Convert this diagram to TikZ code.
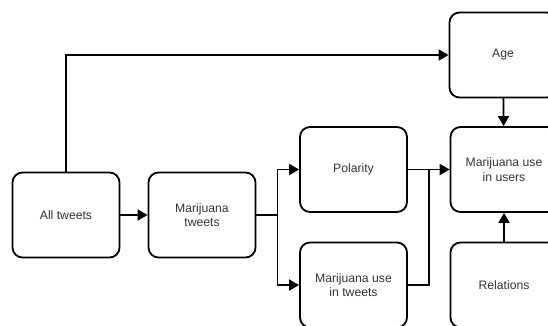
\documentclass[tikz,border=0pt]{standalone}
\usepackage{fontspec}
\setmainfont{Liberation Sans}
\usetikzlibrary{arrows.meta,calc}
\definecolor{txt}{HTML}{333333}
\begin{document}
\begin{tikzpicture}[x=1pt,y=-1pt,
  box/.style={draw=black,line width=1.8pt,rounded corners=10pt,minimum width=107pt,minimum height=85pt,
    align=center,font=\fontsize{12.2}{14.5}\selectfont,text=txt,inner sep=0pt},
  conn/.style={line width=1.8pt},
  arr/.style={conn,-{Triangle[length=10pt,width=11pt]}}]
\useasboundingbox (0,0) rectangle (548,325);
\clip (0,0) rectangle (548,325);
\node[box] (all) at (66,215) {All tweets};
\node[box] (mt) at (202,215) {Marijuana\\tweets};
\node[box] (pol) at (353.5,169.5) {Polarity};
\node[box] (mut) at (353.5,285) {Marijuana use\\in tweets};
\node[box] (age) at (503,55) {Age};
\node[box] (muu) at (504,169.5) {Marijuana use\\in users};
\node[box] (rel) at (504,285) {Relations};
\draw[arr] (all.north) |- (age.west);
\draw[arr] (all) -- (mt);
\draw[conn] (mt.east) -- ++(21,0) coordinate (split);
\draw[arr] (split) |- (pol.west);
\draw[arr] (split) |- (mut.west);
\coordinate (join) at ($(pol.east)+(21,0)$);
\draw[arr] (pol.east) -- (muu.west);
\draw[conn] (mut.east) -| (join);
\draw[arr] (age) -- (muu);
\draw[arr] (rel) -- (muu);
\end{tikzpicture}
\end{document}
